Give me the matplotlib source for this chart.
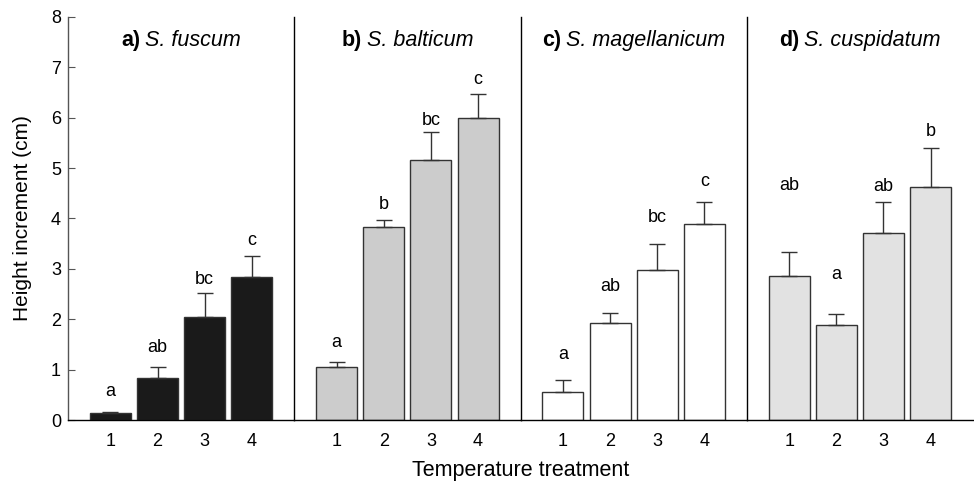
import matplotlib
matplotlib.use("Agg")
import matplotlib.pyplot as plt
from matplotlib.transforms import offset_copy

plt.rcParams['font.family'] = ['Liberation Sans', 'DejaVu Sans']

# dati
treatments = [1, 2, 3, 4]
panel_tags = ['a)', 'b)', 'c)', 'd)']
species = ['S. fuscum', 'S. balticum', 'S. magellanicum', 'S. cuspidatum']

fuscum_mean = [0.13, 0.84, 2.05, 2.83]
fuscum_se = [0.035, 0.21, 0.47, 0.43]
balticum_mean = [1.045, 3.84, 5.16, 5.99]
balticum_se = [0.10, 0.14, 0.55, 0.49]
magellanicum_mean = [0.55, 1.92, 2.98, 3.89]
magellanicum_se = [0.24, 0.20, 0.51, 0.44]
cuspidatum_mean = [2.86, 1.88, 3.72, 4.62]
cuspidatum_se = [0.48, 0.22, 0.61, 0.78]

# lettere di significativita' e loro altezza (cm)
fuscum_letters = ['a', 'ab', 'bc', 'c']
fuscum_letter_y = [0.56, 1.43, 2.78, 3.57]
balticum_letters = ['a', 'b', 'bc', 'c']
balticum_letter_y = [1.53, 4.27, 5.95, 6.75]
magellanicum_letters = ['a', 'ab', 'bc', 'c']
magellanicum_letter_y = [1.31, 2.65, 4.02, 4.73]
cuspidatum_letters = ['ab', 'a', 'ab', 'b']
cuspidatum_letter_y = [4.66, 2.88, 4.63, 5.72]

means = [fuscum_mean, balticum_mean, magellanicum_mean, cuspidatum_mean]
ses = [fuscum_se, balticum_se, magellanicum_se, cuspidatum_se]
letters = [fuscum_letters, balticum_letters, magellanicum_letters, cuspidatum_letters]
letter_y = [fuscum_letter_y, balticum_letter_y, magellanicum_letter_y, cuspidatum_letter_y]
colors = ['#1a1a1a', '#cccccc', '#ffffff', '#e2e2e2']

fig, axes = plt.subplots(1, 4, figsize=(9.74, 4.86), dpi=100, sharey=True)
fig.subplots_adjust(left=68/974, right=973/974, bottom=66/486, top=469/486, wspace=0)
renderer = fig.canvas.get_renderer()

for i, ax in enumerate(axes):
    ax.bar(treatments, means[i], width=0.87, color=colors[i],
           edgecolor='#333333', linewidth=1, zorder=2)
    ax.errorbar(treatments, means[i], yerr=[[0] * 4, ses[i]], fmt='none',
                ecolor='#333333', elinewidth=1, capsize=6, capthick=1, zorder=3)
    for x, lab, ly in zip(treatments, letters[i], letter_y[i]):
        ax.text(x, ly, lab, ha='center', va='center', fontsize=13)

    # titolo: sigla in grassetto + specie in corsivo, centrati nel pannello
    tag = ax.text(0.5, 0.942, panel_tags[i], transform=ax.transAxes,
                  ha='left', va='center', fontsize=15.5, fontweight='bold')
    name = ax.text(0.5, 0.942, species[i], transform=ax.transAxes,
                   ha='left', va='center', fontsize=15.5, fontstyle='italic')
    w_tag = tag.get_window_extent(renderer).width
    w_name = name.get_window_extent(renderer).width
    gap = 5
    total = w_tag + gap + w_name
    tag.set_transform(offset_copy(ax.transAxes, fig=fig, x=-total / 2, y=0, units='dots'))
    name.set_transform(offset_copy(ax.transAxes, fig=fig, x=-total / 2 + w_tag + gap, y=0, units='dots'))

    ax.set_xlim(0.1, 4.9)
    ax.set_ylim(0, 8)
    ax.set_xticks(treatments)
    ax.tick_params(axis='x', length=0, pad=9, labelsize=13)
    ax.spines['top'].set_visible(False)
    ax.spines['right'].set_visible(False)
    ax.spines['left'].set_linewidth(1)
    ax.spines['bottom'].set_linewidth(1)
    if i == 0:
        ax.spines['left'].set_color('#555555')
        ax.set_yticks(range(0, 9))
        ax.tick_params(axis='y', direction='in', length=5, pad=5, labelsize=13, color='#555555')
    else:
        ax.tick_params(axis='y', left=False, labelleft=False)

fig.text(23/974, 1 - 218.5/486, 'Height increment (cm)', rotation=90,
         ha='center', va='center', fontsize=15)
fig.text(520.5/974, 1 - 470/486, 'Temperature treatment', ha='center', va='center', fontsize=15.5)

fig.savefig('out.png', dpi=100)
